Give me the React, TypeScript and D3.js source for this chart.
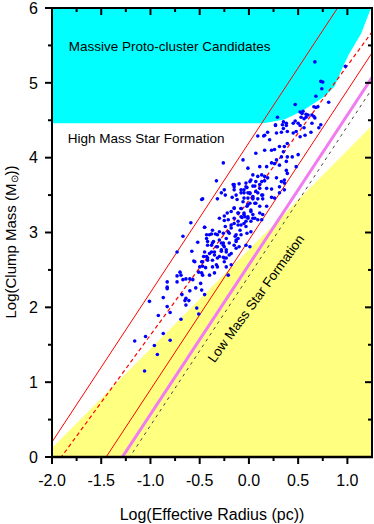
import React from 'react';
import * as d3 from 'd3';

// axes
const xDomain = [-2, 1.25];
const yDomain = [0, 6];
const xMajor = [-2, -1.5, -1, -0.5, 0, 0.5, 1];
const xMinor = [-1.75, -1.25, -0.75, -0.25, 0.25, 0.75];
const yMajor = [0, 1, 2, 3, 4, 5, 6];
const yMinor = [0.5, 1.5, 2.5, 3.5, 4.5, 5.5];

// regions
const protoClusterFloor = 4.46;
const protoClusterEdge = [
  [0.15, 4.46], [0.36, 4.51], [0.55, 4.63], [0.77, 4.82], [0.87, 4.95],
  [0.95, 5.2], [1.01, 5.37], [1.14, 5.66], [1.24, 6.0],
];
const lowMassEdge = [[-2, 0.12], [1.25, 4.43]];

// threshold lines: [slope, intercept] in log-log
const upperRed = [2, 4.2];
const fitDashed = [1.8, 3.43];
const lowerRed = [2, 2.9];
const magentaLine = [2, 2.57];
const greyDashed = [2, 2.42];

// clumps: [log R, log M]
const clumps = [
  [-0.56, 2.62], [-0.47, 2.61], [-0.42, 2.66], [-0.5, 2.54], [-0.44, 2.53], [-0.7, 2.47], [-0.51, 2.47],
  [-0.73, 2.42], [-0.47, 2.43], [-0.67, 2.37], [-0.64, 2.38], [-0.6, 2.38], [-0.57, 2.37], [-0.83, 2.34],
  [-0.49, 2.32], [-0.73, 2.34], [-0.83, 2.27], [-0.83, 2.25], [-0.54, 2.26], [-0.48, 2.23], [-0.6, 2.22],
  [-0.68, 2.17], [-0.87, 2.13], [-0.64, 2.12], [-0.61, 2.09], [-0.45, 2.17], [-1.01, 2.08], [-0.64, 2.03],
  [-0.83, 2.01], [-0.53, 1.99], [-0.8, 1.93], [-0.92, 1.89], [-0.51, 1.91], [-0.69, 1.84], [-0.87, 1.65],
  [-1.05, 1.61], [-1.16, 1.55], [-0.8, 1.56], [-0.96, 1.49], [-0.93, 1.37], [-1.06, 1.15], [-0.65, 2.09],
  [-0.69, 2.43],
  [0.01, 3.68], [0.04, 3.62], [-0.15, 3.64], [-0.03, 3.61], [-0.28, 3.53], [-0.24, 3.5], [-0.32, 3.45],
  [-0.05, 3.53], [0.01, 3.52], [0.04, 3.48], [-0.15, 3.32], [-0.08, 3.32], [-0.02, 3.35], [-0.22, 3.26],
  [-0.18, 3.28], [-0.25, 3.22], [0.02, 3.28], [-0.05, 3.24], [-0.11, 3.26], [-0.01, 3.21], [-0.07, 3.2],
  [0.04, 3.19], [-0.03, 3.15], [-0.59, 3.13], [-0.11, 3.15], [-0.15, 3.12], [-0.08, 3.1], [-0.03, 3.08],
  [-0.24, 3.08], [-0.18, 3.06], [-0.45, 3.07], [-0.3, 3.01], [-0.34, 2.98], [-0.38, 2.98], [-0.43, 2.97],
  [0.02, 3.01], [-0.2, 2.99], [-0.14, 2.95], [-0.08, 2.97], [-0.67, 2.95], [-0.36, 2.88], [-0.42, 2.88],
  [-0.38, 2.83], [-0.26, 2.86], [-0.25, 2.81], [-0.23, 2.77], [-0.28, 2.75], [-0.32, 2.81], [-0.13, 2.88],
  [-0.15, 2.83], [-0.1, 2.81], [-0.52, 2.87], [-0.03, 2.83], [0.01, 2.81], [-0.45, 2.74], [-0.38, 2.74],
  [-0.35, 2.7], [-0.58, 2.75], [-0.73, 2.74], [-0.2, 2.7], [-0.26, 2.67], [-0.32, 2.66], [-0.25, 2.61],
  [-0.42, 2.63], [-0.46, 2.68], [-0.55, 2.61], [-0.47, 2.55], [-0.18, 2.57], [-0.23, 2.54], [-0.37, 2.54],
  [-0.32, 2.54], [-0.48, 2.46], [-0.4, 2.43], [-0.35, 2.46], [-0.21, 2.43],
  [0.29, 4.54], [0.27, 4.44], [0.34, 4.44], [0.38, 4.46], [0.19, 4.34], [0.33, 4.34], [0.15, 4.29],
  [0.09, 4.29], [0.21, 4.24], [0.31, 4.15], [0.36, 4.15], [0.39, 4.19], [0.07, 4.06], [0.16, 4.1],
  [0.23, 4.1], [0.26, 4.11], [-0.26, 3.93], [-0.06, 3.97], [0.28, 3.97], [0.33, 4.01], [0.39, 4.01],
  [-0.01, 3.86], [0.11, 3.88], [0.18, 3.88], [0.23, 3.93], [0.26, 3.92], [0.31, 3.9], [0.38, 3.83],
  [0.39, 3.79], [0.13, 3.77], [0.16, 3.75], [0.09, 3.75], [0.19, 3.73], [0.04, 3.77], [0.02, 3.7],
  [0.07, 3.68], [0.13, 3.68], [0.16, 3.69], [0.28, 3.73], [0.33, 3.68], [0.36, 3.66], [-0.33, 3.69],
  [-0.16, 3.64], [-0.1, 3.65], [-0.03, 3.66], [0.06, 3.62], [0.11, 3.64], [0.18, 3.59], [0.23, 3.58],
  [0.31, 3.61], [0.36, 3.57], [-0.25, 3.57], [-0.15, 3.57], [-0.13, 3.5], [-0.08, 3.53], [-0.05, 3.57],
  [-0.01, 3.53], [0.04, 3.45], [0.09, 3.53], [0.14, 3.5], [-0.01, 3.46], [0.09, 3.45], [0.14, 3.45],
  [0.23, 3.47], [-0.47, 3.45], [-0.17, 3.47], [0.31, 3.53], [0.26, 3.46], [-0.06, 3.41], [0.01, 3.39],
  [0.06, 3.39],
  [0.67, 5.28], [0.98, 5.22], [0.73, 5.02], [0.75, 5.01], [0.74, 4.92], [0.68, 4.82], [0.81, 4.74],
  [0.47, 4.71], [0.66, 4.68], [0.68, 4.67], [0.7, 4.68], [0.55, 4.62], [0.52, 4.61], [0.58, 4.58],
  [0.6, 4.57], [0.53, 4.54], [0.58, 4.54], [0.56, 4.52], [0.66, 4.55], [0.67, 4.53], [0.47, 4.49],
  [0.35, 4.48], [0.27, 4.43], [0.38, 4.43], [0.45, 4.46], [0.5, 4.46], [0.64, 4.46], [0.73, 4.44],
  [0.71, 4.4], [0.52, 4.43], [0.56, 4.4],
  [0.54, 4.59], [0.64, 4.57], [0.63, 4.34], [0.57, 4.3], [0.52, 4.28], [0.48, 4.35], [0.45, 4.33],
  [0.39, 4.35], [0.35, 4.39], [0.28, 4.33], [0.16, 4.3], [0.5, 4.04], [0.44, 4.01], [0.35, 4.08],
  [0.48, 3.88], [0.38, 3.95], [0.36, 3.7], [0.18, 3.35], [0.11, 3.26], [0.06, 3.19], [-0.04, 3.21],
  [0.13, 3.17], [-0.09, 3.03], [-0.02, 2.99], [-0.13, 2.9], [-0.13, 2.79], [-0.28, 2.86], [-0.18, 2.72],
  [-0.23, 2.66],
  [-0.15, 3.61], [-0.08, 3.57], [-0.02, 3.6], [0.01, 3.53], [0.07, 3.55], [0.11, 3.59], [0.13, 3.5],
  [0.04, 3.46], [-0.05, 3.46], [-0.12, 3.44], [0.07, 3.39], [-0.01, 3.37], [-0.08, 3.32], [-0.15, 3.33],
  [0.11, 3.35], [0.02, 3.3], [-0.05, 3.26], [-0.11, 3.26], [0.04, 3.24], [-0.01, 3.19], [-0.08, 3.21],
  [-0.15, 3.19], [-0.21, 3.17], [-0.25, 3.16], [0.14, 3.24], [0.09, 3.17], [0.02, 3.15], [-0.05, 3.12],
  [-0.11, 3.1], [-0.18, 3.1], [-0.3, 3.19], [-0.48, 3.44], [-0.45, 3.07], [-0.37, 3.03], [-0.4, 2.97],
  [-0.43, 2.92], [-0.32, 2.97], [-0.26, 2.99], [-0.21, 3.01], [-0.13, 2.97], [-0.23, 2.92], [-0.3, 2.9],
  [-0.37, 2.86], [-0.42, 2.83], [-0.33, 2.81], [-0.26, 2.83], [-0.2, 2.86], [-0.11, 2.92], [-0.28, 2.77],
  [-0.23, 2.74], [-0.35, 2.74], [-0.4, 2.72], [-0.3, 2.68], [-0.25, 2.66], [-0.37, 2.63], [-0.33, 2.57],
  [-0.48, 2.61], [-0.43, 2.68],
];

const font = '"Liberation Sans", Arial, sans-serif';

const App = () => {
  const left = 52, right = 372, top = 8, bottom = 457;
  const x = d3.scaleLinear().domain(xDomain).range([left, right]);
  const y = d3.scaleLinear().domain(yDomain).range([bottom, top]);
  const line = d3.line<number[]>().x(d => x(d[0])).y(d => y(d[1]));

  const sigmaPath = (l: number[]) =>
    line(xDomain.map(v => [v, l[1] + l[0] * v]));

  const cyanPts = [[xDomain[0], yDomain[1]], ...protoClusterEdge.slice().reverse(), [xDomain[0], protoClusterFloor]];
  const yellowPts = [[xDomain[0], yDomain[0]], ...lowMassEdge, [xDomain[1], yDomain[0]]];

  return (
    <svg width={374} height={524} style={{ position: 'absolute', left: 0, top: 0, background: '#fff' }}>
      <defs>
        <clipPath id="plot">
          <rect x={left} y={top} width={right - left} height={bottom - top} />
        </clipPath>
      </defs>
      <g clipPath="url(#plot)">
        <path d={line(cyanPts) + 'Z'} fill="#00ffff" />
        <path d={line(yellowPts) + 'Z'} fill="#ffff80" />
        <path d={sigmaPath(greyDashed)} stroke="#444" strokeWidth={1} strokeDasharray="3 4" fill="none" />
        <path d={sigmaPath(magentaLine)} stroke="#f07cf0" strokeWidth={3} fill="none" />
        <path d={sigmaPath(lowerRed)} stroke="#ff0000" strokeWidth={1} fill="none" />
        <path d={sigmaPath(upperRed)} stroke="#ff0000" strokeWidth={1} fill="none" />
        <path d={sigmaPath(fitDashed)} stroke="#ff0000" strokeWidth={1.2} strokeDasharray="4 3" fill="none" />
        {clumps.map((d, i) => (
          <circle key={i} cx={x(d[0])} cy={y(d[1])} r={1.8} fill="#0000ff" />
        ))}
      </g>

      <g fontFamily={font} fill="#000">
        <text x={x(-1.83)} y={y(5.42)} fontSize={13.5}>Massive Proto-cluster Candidates</text>
        <text x={x(-1.84)} y={y(4.2)} fontSize={13.5}>High Mass Star Formation</text>
        <text transform={`translate(${x(-0.35)},${y(1.25)}) rotate(-54)`} fontSize={13.5}>Low Mass Star Formation</text>
      </g>

      {/* frame */}
      <rect x={left} y={top} width={right - left} height={bottom - top} fill="none" stroke="#000" strokeWidth={2} />
      <line x1={left - 1} x2={right + 1} y1={bottom} y2={bottom} stroke="#000" strokeWidth={2.5} />

      {/* x ticks */}
      {xMajor.map(v => (
        <g key={'xm' + v}>
          <line x1={x(v)} x2={x(v)} y1={bottom} y2={bottom + 7} stroke="#000" strokeWidth={2} />
          <line x1={x(v)} x2={x(v)} y1={top} y2={top + 7} stroke="#000" strokeWidth={2} />
          <text x={x(v)} y={486} textAnchor="middle" fontFamily={font} fontSize={16}>{d3.format('.1f')(v).replace('−', '-')}</text>
        </g>
      ))}
      {xMinor.map(v => (
        <g key={'xn' + v}>
          <line x1={x(v)} x2={x(v)} y1={bottom} y2={bottom + 4} stroke="#000" strokeWidth={2} />
          <line x1={x(v)} x2={x(v)} y1={top} y2={top + 4} stroke="#000" strokeWidth={2} />
        </g>
      ))}

      {/* y ticks */}
      {yMajor.map(v => (
        <g key={'ym' + v}>
          <line x1={left - 7} x2={left} y1={y(v)} y2={y(v)} stroke="#000" strokeWidth={2} />
          <line x1={right - 7} x2={right} y1={y(v)} y2={y(v)} stroke="#000" strokeWidth={2} />
          <text x={38} y={y(v)} dy="0.36em" textAnchor="end" fontFamily={font} fontSize={16}>{v}</text>
        </g>
      ))}
      {yMinor.map(v => (
        <g key={'yn' + v}>
          <line x1={left - 4} x2={left} y1={y(v)} y2={y(v)} stroke="#000" strokeWidth={2} />
          <line x1={right - 4} x2={right} y1={y(v)} y2={y(v)} stroke="#000" strokeWidth={2} />
        </g>
      ))}

      {/* axis titles */}
      <text x={212} y={520} textAnchor="middle" fontFamily={font} fontSize={16}>Log(Effective Radius (pc))</text>
      <text transform="translate(16,242) rotate(-90)" textAnchor="middle" fontFamily={font} fontSize={15}>
        Log(Clump Mass (M<tspan fontSize={10} dy={2}>⊙</tspan><tspan dy={-2}>))</tspan>
      </text>
    </svg>
  );
};

export default App;
